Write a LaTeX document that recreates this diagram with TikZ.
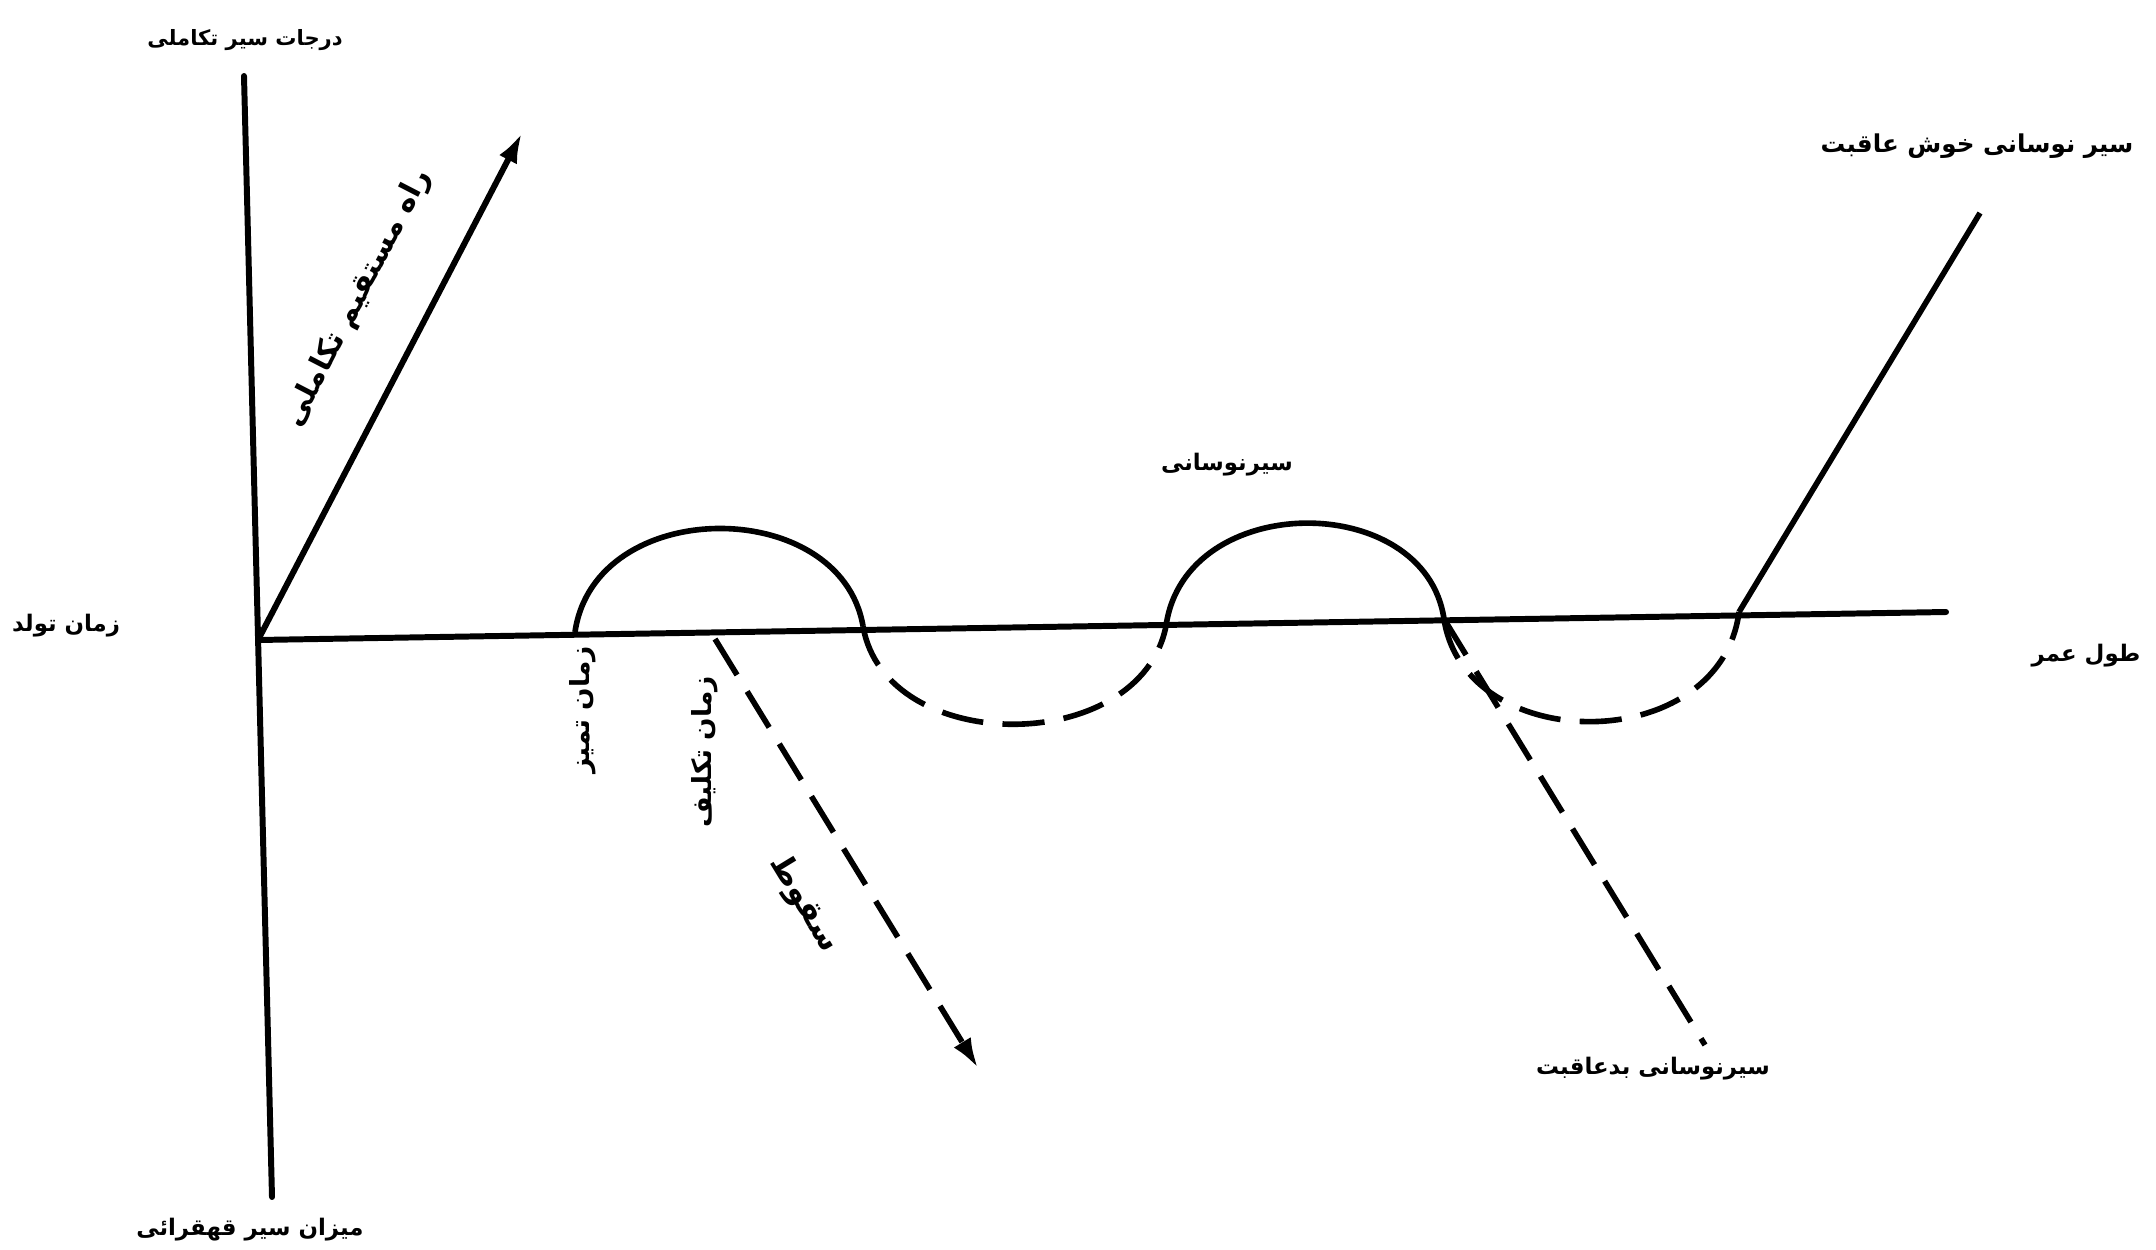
\documentclass[tikz,border=0pt]{standalone}
\usepackage{fontspec}
\usepackage{tikz}
\usetikzlibrary{arrows.meta, positioning, calc}
\TeXXeTstate=1
\newfontfamily\farsi[Script=Arabic]{DejaVu Sans}
\tikzset{
  axisline/.style={line width=3.4pt, black, line cap=round},
  curveline/.style={line width=3.2pt, black},
  dashline/.style={line width=3.2pt, black, dash pattern=on 24pt off 11pt},
  lifearrow/.style={-{Latex[length=6mm, width=4mm]}},
  farsilabel/.style={font=\farsi\bfseries\fontsize{13}{15}\selectfont, inner sep=1pt},
}
\newcommand{\fa}[1]{\beginR #1\endR}

\begin{document}
\begin{tikzpicture}[x=0.02cm, y=-0.02cm]
  \useasboundingbox (0,0) rectangle (2156,1250);

  % ---- AXES ----
  \coordinate (vtop) at (244,76);
  \coordinate (vbot) at (272,1197);
  \coordinate (birth) at (258,640);
  \coordinate (hend) at (1946,612);
  \draw[axisline] (vtop) -- (vbot);
  \draw[axisline] (birth) -- (hend);

  % Straight path
  \coordinate (straighttip) at (522,133);
  \draw[axisline, lifearrow] (birth) -- (straighttip);

  % ---- OSCILLATION ----
  \coordinate (h1a) at (575,632);
  \coordinate (h1b) at (863,626);
  \coordinate (h2a) at (1166,626);
  \coordinate (h2b) at (1444,619);
  \coordinate (h3a) at (1739,612);
  \draw[curveline] (h1a) .. controls (595,495) and (840,495) .. (h1b);
  \draw[dashline] (h1b) .. controls (885,757) and (1140,757) .. (h2a);
  \draw[curveline] (h2a) .. controls (1185,490) and (1425,490) .. (h2b);
  \draw[dashline] (h2b) .. controls (1465,757) and (1720,757) .. (h3a);

  % Good ending
  \coordinate (goodend) at (1980,213);
  \draw[curveline] (h3a) -- (goodend);

  % Bad ending
  \coordinate (badend) at (1705,1045);
  \draw[dashline] (h2b) -- (badend);

  % Fall
  \coordinate (fallstart) at (715,639);
  \coordinate (falltip) at (978,1068);
  \draw[dashline, lifearrow] (fallstart) -- (falltip);

  % ---- LABELS ----
  \node[farsilabel, font=\farsi\bfseries\fontsize{12}{14}\selectfont]
    (lblup) at (245,40) {\fa{درجات سیر تکاملی}};
  \node[farsilabel] (lbldown) at (250,1230) {\fa{میزان سیر قهقرائی}};
  \node[farsilabel] (lblbirth) at (66,626) {\fa{زمان تولد}};
  \node[farsilabel] (lbllife) at (2086,656) {\fa{طول عمر}};
  \node[farsilabel, font=\farsi\bfseries\fontsize{17}{19}\selectfont,
    rotate=62.7] (lblstraight) at (358,298) {\fa{راه مستقیم تکاملی}};
  \node[farsilabel] (lblosc) at (1227,465) {\fa{سیرنوسانی}};
  \node[farsilabel, font=\farsi\bfseries\fontsize{14}{16}\selectfont]
    (lblgood) at (1977,146) {\fa{سیر نوسانی خوش عاقبت}};
  \node[farsilabel] (lblbad) at (1653,1069) {\fa{سیرنوسانی بدعاقبت}};
  \node[farsilabel, font=\farsi\bfseries\fontsize{15}{17}\selectfont,
    rotate=90] (lbldiscern) at (583,710) {\fa{زمان تمیز}};
  \node[farsilabel, font=\farsi\bfseries\fontsize{15}{17}\selectfont,
    rotate=90] (lbladult) at (705,752) {\fa{زمان تکلیف}};
  \node[farsilabel, font=\farsi\bfseries\fontsize{18}{20}\selectfont,
    rotate=-58.6] (lblfall) at (804,904) {\fa{سقوط}};
\end{tikzpicture}
\end{document}
